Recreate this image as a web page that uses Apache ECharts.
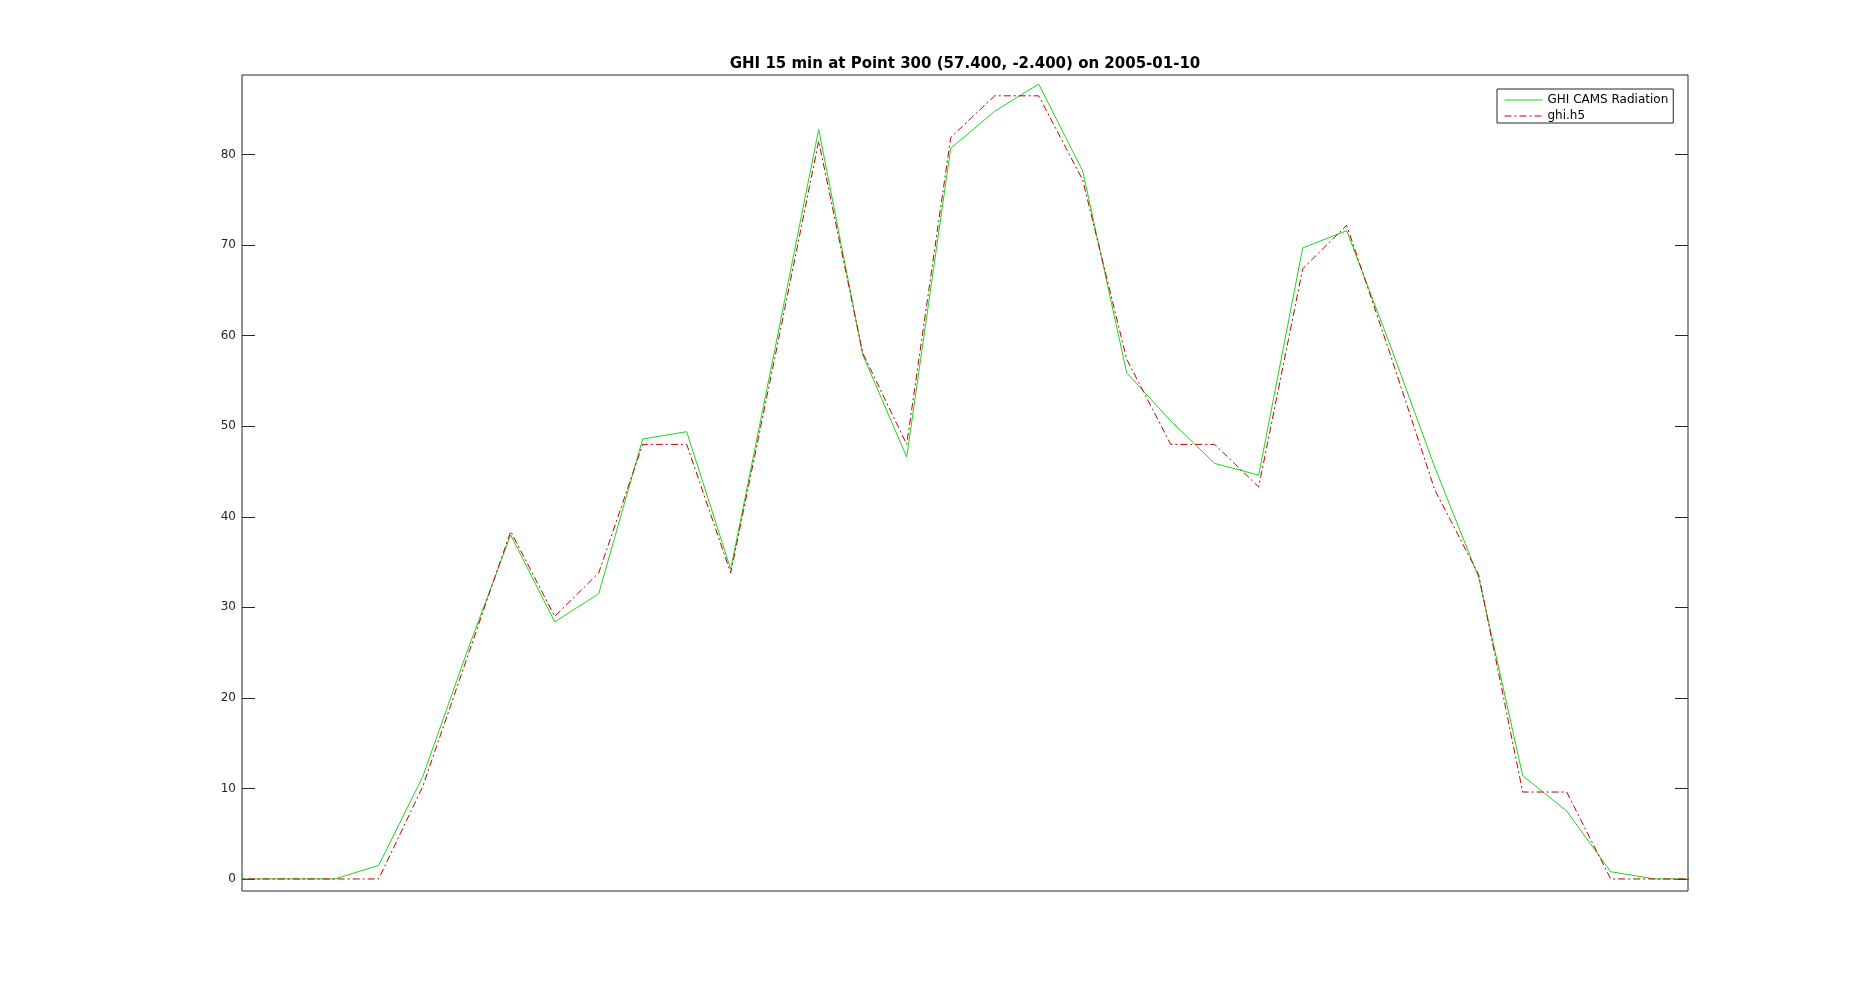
<!DOCTYPE html>
<html>
<head>
<meta charset="utf-8">
<script src="https://cdn.jsdelivr.net/npm/echarts@6/dist/echarts.min.js"></script>
<style>
  html, body { margin: 0; padding: 0; background: #ffffff; }
  #chart { width: 1865px; height: 1001px; }
</style>
</head>
<body>
<div id="chart"></div>
<script>
// 15-min sample slots (slot 0 and 34 lie just outside the visible x-range)
const slots = [0, 1, 2, 3, 4, 5, 6, 7, 8, 9, 10, 11, 12, 13, 14, 15, 16, 17, 18, 19, 20, 21, 22, 23, 24, 25, 26, 27, 28, 29, 30, 31, 32, 33, 34];

const ghiCams = [0, 0, 0, 0, 1.5, 11.3, 25.0, 38.0, 28.4, 31.5, 48.6, 49.4, 34.2, 58.4, 82.8, 57.9, 46.6, 80.7, 84.8, 87.8, 78.2, 55.9, 50.6, 45.9, 44.6, 69.7, 71.6, 58.8, 45.5, 33.3, 11.4, 7.5, 0.8, 0, 0];

const ghiH5 = [0, 0, 0, 0, 0, 10.2, 24.3, 38.4, 29.0, 33.8, 48.0, 48.0, 33.8, 57.5, 81.5, 58.1, 48.0, 81.9, 86.5, 86.5, 77.2, 57.4, 48.0, 48.0, 43.3, 67.4, 72.2, 57.8, 43.0, 33.6, 9.6, 9.6, 0, 0, 0];

const yTicks = [0, 10, 20, 30, 40, 50, 60, 70, 80];

const seriesNames = ['GHI CAMS Radiation', 'ghi.h5'];
const titleText = 'GHI 15 min at Point 300 (57.400, -2.400) on 2005-01-10';

const axisColor = '#262626';
const font = 'DejaVu Sans';

const chart = echarts.init(document.getElementById('chart'), null, { renderer: 'canvas' });

function yAxisDef(position, showLabels) {
  return {
    type: 'value',
    position: position,
    min: -1.33,
    max: 88.8,
    axisLine: { show: false },
    splitLine: { show: false },
    axisTick: {
      show: true,
      inside: true,
      length: 13,
      customValues: yTicks,
      lineStyle: { color: axisColor, width: 1 }
    },
    axisLabel: {
      show: showLabels,
      customValues: yTicks,
      margin: 6,
      color: axisColor,
      fontFamily: font,
      fontSize: 12
    }
  };
}

chart.setOption({
  backgroundColor: '#ffffff',
  animation: false,
  title: {
    text: titleText,
    left: 965,
    top: 57,
    textAlign: 'center',
    padding: 0,
    textStyle: { fontFamily: font, fontSize: 15, fontWeight: 'bold', color: '#000000' }
  },
  grid: {
    left: 242,
    right: 177,
    top: 75,
    bottom: 110,
    show: true,
    borderColor: axisColor,
    borderWidth: 1,
    backgroundColor: '#ffffff'
  },
  legend: {
    orient: 'vertical',
    left: 1497,
    top: 89,
    padding: [4, 5, 0, 7],
    itemWidth: 38,
    itemHeight: 10,
    itemGap: 2,
    borderColor: axisColor,
    borderWidth: 1,
    backgroundColor: '#ffffff',
    borderRadius: 0,
    itemStyle: { opacity: 0 },
    lineStyle: { width: 1 },
    textStyle: { fontFamily: font, fontSize: 12, color: '#000000', lineHeight: 14 },
    data: seriesNames
  },
  xAxis: {
    type: 'value',
    min: 0.893,
    max: 33.757,
    axisLine: { show: false },
    axisTick: { show: false },
    axisLabel: { show: false },
    splitLine: { show: false }
  },
  yAxis: [yAxisDef('left', true), yAxisDef('right', false)],
  series: [
    {
      name: seriesNames[0],
      type: 'line',
      yAxisIndex: 0,
      showSymbol: false,
      symbol: 'none',
      clip: true,
      lineStyle: { color: '#1fd41f', width: 1 },
      itemStyle: { color: '#1fd41f' },
      data: slots.map((s, i) => [s, ghiCams[i]])
    },
    {
      name: seriesNames[1],
      type: 'line',
      yAxisIndex: 0,
      showSymbol: false,
      symbol: 'none',
      clip: true,
      lineStyle: { color: '#c00000', width: 1, type: [7, 3, 2, 3] },
      itemStyle: { color: '#c00000' },
      data: slots.map((s, i) => [s, ghiH5[i]])
    }
  ]
});
</script>
</body>
</html>
